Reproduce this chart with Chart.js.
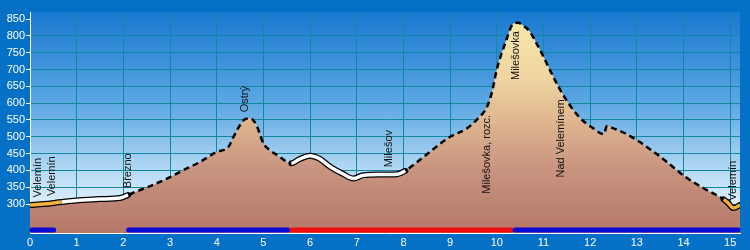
<!DOCTYPE html>
<html>
<head>
<meta charset="utf-8">
<script src="https://cdn.jsdelivr.net/npm/chart.js@4/dist/chart.umd.min.js"></script>
<style>
  html, body { margin: 0; padding: 0; background: #0571c6; }
  canvas { display: block; }
</style>
</head>
<body>
<canvas id="profile" width="750" height="250"></canvas>
<script>
/* --------------------- DATA ---------------------------- */
// elevation profile: km along the route, metres
const profileKm = [
  0, 0.3, 0.68, 1.14, 1.5, 1.93, 2.1, 2.2, 2.6, 3.0, 3.3, 3.64, 4.0, 4.25, 4.36, 4.5,
  4.6, 4.72, 4.85, 5.0, 5.14, 5.3, 5.5, 5.6, 5.75, 6.0, 6.2, 6.43, 6.7, 6.93, 7.14,
  7.5, 7.86, 8.04, 8.2, 8.43, 8.7, 9.0, 9.36, 9.6, 9.79, 9.9, 10.0, 10.18, 10.36,
  10.46, 10.55, 10.71, 10.85, 11.0, 11.15, 11.32, 11.54, 11.79, 12.07, 12.29, 12.36,
  12.5, 12.75, 13.0, 13.5, 14.04, 14.43, 14.86, 14.95, 15.07, 15.21
];
const profileElev = [
  297, 300, 306, 312, 315, 318, 327, 333, 355, 380, 402, 425, 455, 470, 500, 535,
  552, 555, 535, 480, 460, 445, 426, 421, 432, 444, 435, 411, 390, 376, 386,
  388, 389, 399, 415, 440, 470, 500, 525, 555, 589, 635, 700, 778, 837,
  839, 832, 812, 778, 738, 695, 649, 599, 555, 525, 508, 532,
  525, 510, 490, 441, 381, 347, 314, 304, 288, 297
];

// route parts drawn over the profile
const routeFrom = [0, 0.68, 2.1, 5.6, 8.04, 14.86];
const routeTo = [0.68, 2.1, 5.6, 8.04, 14.86, 15.21];
const routeKind = ["orange", "white", "dashed", "white", "dashed", "orange"];

// waypoints
const wpNames = ["Velemín", "Velemín", "Březno", "Ostrý", "Milešov",
  "Milešovka, rozc.", "Milešovka", "Nad Velemínem", "Velemín"];
const wpKm = [0.16, 0.48, 2.09, 4.6, 7.69, 9.79, 10.41, 11.38, 15.06];

// marking bar along the bottom
const barFrom = [0, 2.07, 5.57, 10.35];
const barTo = [0.55, 5.57, 10.35, 15.21];
const barColor = ["#0b0bd8", "#0b0bd8", "#f20c0c", "#0b0bd8"];

const xTicks = [0, 1, 2, 3, 4, 5, 6, 7, 8, 9, 10, 11, 12, 13, 14, 15];
const yTicks = [300, 350, 400, 450, 500, 550, 600, 650, 700, 750, 800, 850];

/* --------------------- UTILITIES ----------------------- */
const FONT = "'Liberation Sans', Arial, sans-serif";
const GRID = "#0f88a0";

function kindAt(km) {
  for (let i = 0; i < routeFrom.length; i++) {
    if (km >= routeFrom[i] && km <= routeTo[i]) return routeKind[i];
  }
  return "dashed";
}

function elevAt(km) {
  for (let i = 1; i < profileKm.length; i++) {
    if (km <= profileKm[i]) {
      const t = (km - profileKm[i - 1]) / (profileKm[i] - profileKm[i - 1]);
      return profileElev[i - 1] + t * (profileElev[i] - profileElev[i - 1]);
    }
  }
  return profileElev[profileElev.length - 1];
}

function segKind(ctx) {
  return kindAt((ctx.p0.parsed.x + ctx.p1.parsed.x) / 2);
}

const points = profileKm.map((k, i) => ({ x: k, y: profileElev[i] }));

/* --------------------- PLUGINS ------------------------- */
const backdrop = {
  id: "backdrop",
  beforeDraw(chart) {
    const { ctx, chartArea: a, width, height } = chart;
    ctx.save();
    ctx.fillStyle = "#0571c6";
    ctx.fillRect(0, 0, width, height);
    const g = ctx.createLinearGradient(0, a.top, 0, 212);
    g.addColorStop(0, "#1a78d0");
    g.addColorStop(0.45, "#5aa6e2");
    g.addColorStop(0.8, "#b6daf4");
    g.addColorStop(1, "#e8f4fc");
    ctx.fillStyle = g;
    ctx.fillRect(a.left, a.top, a.right - a.left, a.bottom - a.top);
    ctx.restore();
  }
};

const marks = {
  id: "marks",
  afterDraw(chart) {
    const { ctx, chartArea: a } = chart;
    const xs = chart.scales.x, ys = chart.scales.y;

    // bar
    ctx.save();
    ctx.lineWidth = 5;
    ctx.lineCap = "round";
    barFrom.forEach((f, i) => {
      ctx.strokeStyle = barColor[i];
      ctx.beginPath();
      ctx.moveTo(xs.getPixelForValue(f) + 2, a.bottom - 3);
      ctx.lineTo(xs.getPixelForValue(barTo[i]) - 2, a.bottom - 3);
      ctx.stroke();
    });
    ctx.restore();

    // waypoint names
    ctx.save();
    ctx.font = "11px " + FONT;
    ctx.fillStyle = "#111";
    ctx.textBaseline = "middle";
    wpNames.forEach((name, i) => {
      const x = xs.getPixelForValue(wpKm[i]);
      const lineY = ys.getPixelForValue(elevAt(wpKm[i]));
      const w = ctx.measureText(name).width;
      ctx.save();
      if (lineY - 7 - w >= a.top + 20) {
        ctx.translate(x, lineY - 7);
        ctx.rotate(-Math.PI / 2);
        ctx.textAlign = "left";
      } else {
        ctx.translate(x, lineY + 8);
        ctx.rotate(-Math.PI / 2);
        ctx.textAlign = "right";
      }
      ctx.fillText(name, 0, 0);
      ctx.restore();
    });
    ctx.restore();
  }
};

/* --------------------- CHART --------------------------- */
function fillGradient(c) {
  const a = c.chart.chartArea;
  if (!a) return "#c89580";
  const g = c.chart.ctx.createLinearGradient(0, a.top, 0, a.bottom);
  g.addColorStop(0.03, "#f8e8aa");
  g.addColorStop(0.31, "#efd3a0");
  g.addColorStop(0.49, "#dfb690");
  g.addColorStop(0.71, "#c89480");
  g.addColorStop(1, "#b57868");
  return g;
}

new Chart(document.getElementById("profile"), {
  type: "line",
  data: {
    datasets: [
      {
        data: points,
        order: 3,
        fill: "start",
        backgroundColor: fillGradient,
        borderColor: "#000",
        borderWidth: 2.5,
        borderDash: [6, 4],
        cubicInterpolationMode: "monotone",
        pointRadius: 0
      },
      {
        data: points,
        order: 2,
        fill: false,
        borderWidth: 6,
        borderColor: "rgba(0,0,0,0)",
        borderCapStyle: "round",
        cubicInterpolationMode: "monotone",
        pointRadius: 0,
        segment: {
          borderColor: (c) => (segKind(c) === "dashed" ? "rgba(0,0,0,0)" : "#000")
        }
      },
      {
        data: points,
        order: 1,
        fill: false,
        borderWidth: 3.5,
        borderColor: "rgba(0,0,0,0)",
        cubicInterpolationMode: "monotone",
        pointRadius: 0,
        segment: {
          borderColor: (c) => {
            const k = segKind(c);
            if (k === "white") return "#ffffff";
            if (k === "orange") return "#f4b13a";
            return "rgba(0,0,0,0)";
          }
        }
      }
    ]
  },
  options: {
    responsive: false,
    animation: false,
    layout: { padding: { left: 0, right: 10, top: 12, bottom: 0 } },
    plugins: { legend: { display: false }, tooltip: { enabled: false } },
    scales: {
      x: {
        type: "linear",
        min: 0,
        max: 15.21,
        afterBuildTicks: (s) => { s.ticks = xTicks.map((v) => ({ value: v })); },
        afterFit: (s) => { s.height = 17; },
        ticks: { color: "#fff", font: { size: 11, family: FONT }, padding: 3, maxRotation: 0, autoSkip: false },
        grid: { color: GRID, drawTicks: false },
        border: { color: "#fff", width: 1 }
      },
      y: {
        min: 214,
        max: 871,
        afterBuildTicks: (s) => { s.ticks = yTicks.map((v) => ({ value: v })); },
        afterFit: (s) => { s.width = 30; },
        ticks: { color: "#fff", font: { size: 11, family: FONT }, padding: 1 },
        grid: {
          color: (c) => (c.tick && c.tick.value === 850 ? "rgba(0,0,0,0)" : GRID),
          tickColor: "#fff",
          tickLength: 4
        },
        border: { color: "#fff", width: 1 }
      }
    }
  },
  plugins: [backdrop, marks]
});
</script>
</body>
</html>
